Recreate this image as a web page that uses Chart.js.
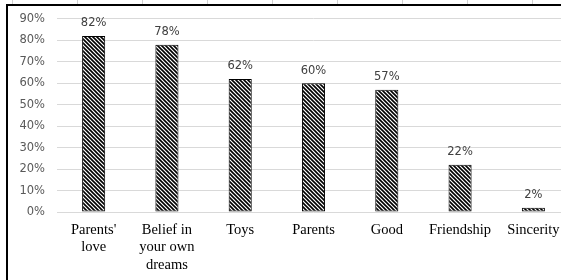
<!DOCTYPE html>
<html>
<head>
<meta charset="utf-8">
<script src="https://cdn.jsdelivr.net/npm/chart.js@4.4.1/dist/chart.umd.min.js"></script>
<style>
  html, body { margin: 0; padding: 0; background: #fff; overflow: hidden; width: 561px; height: 280px; }
  #wrap { position: absolute; left: 0; top: 0; width: 575px; height: 280px; }
  #bt { position: absolute; left: 6px; top: 4px; width: 560px; height: 2px; background: #000; }
  #bl { position: absolute; left: 6px; top: 4px; width: 2px; height: 280px; background: #000; }
  #cells { position: absolute; left: 12px; top: 0; width: 560px; height: 4px;
    background: repeating-linear-gradient(to right, #d0d0d0 0, #d0d0d0 1px, transparent 1px, transparent 65px); }
</style>
</head>
<body>
<div id="wrap"><canvas id="c" width="575" height="280"></canvas></div>
<div id="cells"></div>
<div id="bt"></div>
<div id="bl"></div>
<script>
const categories = [["Parents'", "love"], ["Belief in", "your own", "dreams"], "Toys", "Parents", "Good", "Friendship", "Sincerity"];
const values = [82, 78, 62, 60, 57, 22, 2];
const yTicks = [0, 10, 20, 30, 40, 50, 60, 70, 80, 90];

function hatch() {
  const s = 4;
  const p = document.createElement('canvas');
  p.width = s; p.height = s;
  const g = p.getContext('2d');
  g.fillStyle = '#fff';
  g.fillRect(0, 0, s, s);
  g.strokeStyle = '#000';
  g.lineWidth = 1.6;
  g.beginPath();
  g.moveTo(-1, -1); g.lineTo(s + 1, s + 1);
  g.moveTo(-1, s - 1); g.lineTo(1, s + 1);
  g.moveTo(s - 1, -1); g.lineTo(s + 1, 1);
  g.stroke();
  return g.createPattern(p, 'repeat');
}

const labelPlugin = {
  id: 'valueLabels',
  afterDatasetsDraw(chart) {
    const ctx = chart.ctx;
    const meta = chart.getDatasetMeta(0);
    ctx.save();
    ctx.font = '11.5px "DejaVu Sans"';
    ctx.fillStyle = '#404040';
    ctx.textAlign = 'center';
    ctx.textBaseline = 'bottom';
    meta.data.forEach((bar, i) => {
      ctx.fillText(values[i] + '%', bar.x, bar.y - 7);
    });
    ctx.restore();
  }
};

new Chart(document.getElementById('c'), {
  type: 'bar',
  data: {
    labels: categories,
    datasets: [{
      data: values,
      backgroundColor: hatch(),
      borderColor: '#000',
      borderWidth: 1,
      borderSkipped: false,
      categoryPercentage: 1,
      barPercentage: 0.315
    }]
  },
  options: {
    responsive: false,
    animation: false,
    events: [],
    layout: { padding: { top: 16, right: 5, left: 0, bottom: 0 } },
    plugins: { legend: { display: false }, tooltip: { enabled: false } },
    scales: {
      x: {
        grid: { display: false, drawTicks: false },
        border: { display: false },
        ticks: {
          color: '#000',
          font: { family: '"Liberation Serif"', size: 14.5, lineHeight: 1.18 },
          padding: 10,
          maxRotation: 0,
          autoSkip: false
        },
        afterFit(scale) { scale.height = 68; }
      },
      y: {
        min: 0,
        max: 90,
        afterBuildTicks(scale) { scale.ticks = yTicks.map(v => ({ value: v })); },
        grid: { color: '#d9d9d9', lineWidth: 1, drawTicks: false },
        border: { display: false },
        ticks: {
          color: '#595959',
          font: { family: '"DejaVu Sans"', size: 11.5 },
          padding: 12,
          callback: v => v + '%'
        },
        afterFit(scale) { scale.width = 57; }
      }
    }
  },
  plugins: [labelPlugin]
});
</script>
</body>
</html>
